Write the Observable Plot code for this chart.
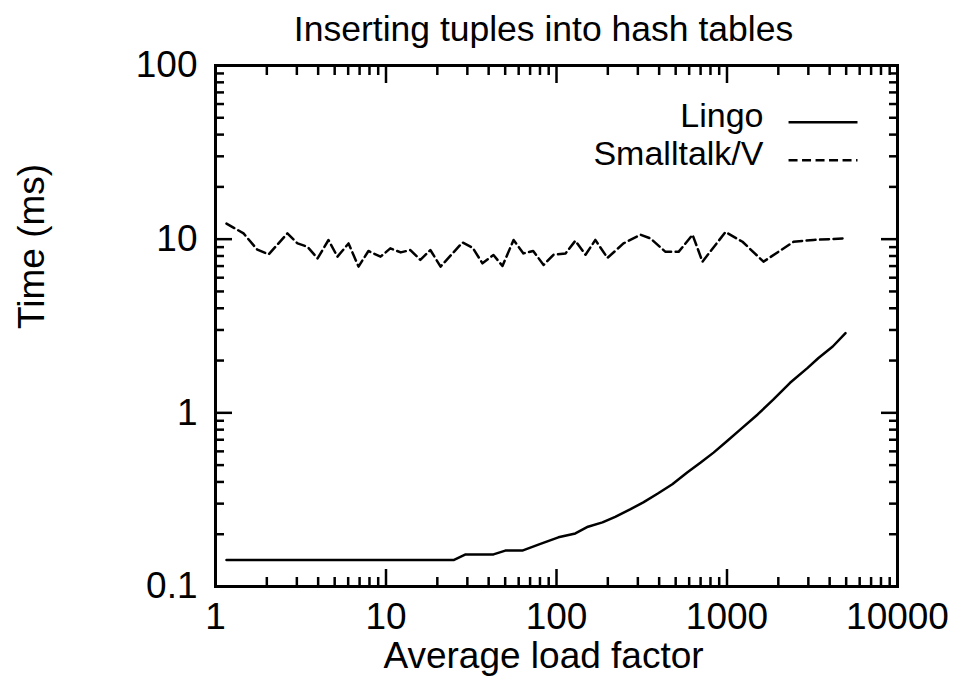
<!DOCTYPE html>
<html>
<head>
<meta charset="utf-8">
<script src="https://cdn.jsdelivr.net/npm/d3@7"></script>
<script src="https://cdn.jsdelivr.net/npm/@observablehq/plot@0.6"></script>
<style>
  html, body { margin: 0; padding: 0; background: white; }
</style>
</head>
<body>
<div id="chart"></div>
<script>
// ---- data ----
const seriesNames = ["Lingo", "Smalltalk/V"];

const lingoX = [1.16, 24.9, 29.3, 42.7, 50.1, 63, 80.5, 102.6, 129, 153, 186, 221, 272, 323, 393, 478, 584, 701, 834, 1002, 1200, 1513, 1867, 2344, 2960, 3440, 4170, 4955];
const lingoY = [0.142, 0.142, 0.153, 0.153, 0.161, 0.161, 0.176, 0.192, 0.202, 0.221, 0.234, 0.252, 0.279, 0.305, 0.343, 0.388, 0.453, 0.517, 0.590, 0.688, 0.803, 0.979, 1.19, 1.49, 1.81, 2.07, 2.41, 2.88];

const smalltalkX = [1.16, 1.46, 1.76, 2.05, 2.64, 3.03, 3.46, 3.97, 4.60, 5.19, 6.03, 6.90, 7.89, 9.29, 10.6, 12.2, 13.9, 15.9, 18.2, 20.9, 28.1, 32.2, 36.8, 42.7, 48.2, 56, 64, 73, 84, 96, 113, 129, 148, 169, 199, 247, 311, 356, 436, 520, 628, 718, 980, 1233, 1637, 2455, 3215, 4955];
const smalltalkY = [12.3, 10.8, 8.7, 8.17, 10.8, 9.45, 9.05, 7.75, 9.89, 7.93, 9.45, 6.95, 8.55, 7.93, 8.85, 8.39, 8.66, 7.59, 8.66, 6.95, 9.57, 8.93, 7.26, 8.11, 7.01, 9.89, 8.28, 8.55, 7.10, 8.13, 8.28, 9.79, 8.13, 9.9, 7.8, 9.45, 10.6, 10.1, 8.45, 8.45, 10.6, 7.42, 11.0, 9.66, 7.42, 9.66, 9.9, 10.1];

const xTickLabels = [1, 10, 100, 1000, 10000];
const yTickLabels = [0.1, 1, 10, 100];

const titleText = "Inserting tuples into hash tables";
const xLabelText = "Average load factor";
const yLabelText = "Time (ms)";

// ---- derived tables ----
const lingo = lingoX.map((x, i) => ({x, y: lingoY[i]}));
const smalltalk = smalltalkX.map((x, i) => ({x, y: smalltalkY[i]}));
const xMinor = xTickLabels.slice(0, -1).flatMap(d => [2,3,4,5,6,7,8,9].map(k => k * d));
const yMinor = yTickLabels.slice(0, -1).flatMap(d => [2,3,4,5,6,7,8,9].map(k => +(k * d).toPrecision(3)));

const font = "'Liberation Sans', Arial, Helvetica, sans-serif";
const tickW = 2.5;
const blank = () => "";

const chart = Plot.plot({
  width: 955,
  height: 685,
  marginLeft: 215,
  marginRight: 58,
  marginTop: 65,
  marginBottom: 99,
  x: {type: "log", domain: [1, 10000]},
  y: {type: "log", domain: [0.1, 100]},
  style: {fontFamily: font, fontSize: "37px", background: "white", color: "black"},
  marks: [
    // inward ticks on all four sides
    Plot.axisX(xTickLabels, {anchor: "bottom", tickSize: -17, tickFormat: blank, label: null, strokeWidth: tickW}),
    Plot.axisX(xMinor, {anchor: "bottom", tickSize: -9, tickFormat: blank, label: null, strokeWidth: tickW}),
    Plot.axisX(xTickLabels, {anchor: "top", tickSize: -17, tickFormat: blank, label: null, strokeWidth: tickW}),
    Plot.axisX(xMinor, {anchor: "top", tickSize: -9, tickFormat: blank, label: null, strokeWidth: tickW}),
    Plot.axisY(yTickLabels, {anchor: "left", tickSize: -17, tickFormat: blank, label: null, strokeWidth: tickW}),
    Plot.axisY(yMinor, {anchor: "left", tickSize: -9, tickFormat: blank, label: null, strokeWidth: tickW}),
    Plot.axisY(yTickLabels, {anchor: "right", tickSize: -17, tickFormat: blank, label: null, strokeWidth: tickW}),
    Plot.axisY(yMinor, {anchor: "right", tickSize: -9, tickFormat: blank, label: null, strokeWidth: tickW}),
    // tick labels
    Plot.axisX(xTickLabels, {anchor: "bottom", tickSize: 0, tickPadding: 16, tickFormat: d => String(d), label: null, fontSize: 37}),
    Plot.axisY(yTickLabels, {anchor: "left", tickSize: 0, tickPadding: 18, tickFormat: d => String(d), label: null, fontSize: 37}),
    Plot.frame({strokeWidth: 3}),
    // data
    Plot.line(lingo, {x: "x", y: "y", stroke: "black", strokeWidth: 2.5}),
    Plot.line(smalltalk, {x: "x", y: "y", stroke: "black", strokeWidth: 2.5, strokeDasharray: "9,4.5"}),
    // legend
    Plot.text([seriesNames[0]], {x: 1637, y: 51.2, text: d => d, textAnchor: "end", lineAnchor: "middle", fontSize: 34}),
    Plot.text([seriesNames[1]], {x: 1637, y: 30.9, text: d => d, textAnchor: "end", lineAnchor: "middle", fontSize: 34}),
    Plot.link([seriesNames[0]], {x1: 2296, x2: 5826, y1: 47.1, y2: 47.1, stroke: "black", strokeWidth: 2.5}),
    Plot.link([seriesNames[1]], {x1: 2296, x2: 5826, y1: 28.5, y2: 28.5, stroke: "black", strokeWidth: 2.5, strokeDasharray: "9,4.5"}),
    // titles
    Plot.text([titleText], {frameAnchor: "top", text: d => d, dx: -13, dy: -25, lineAnchor: "bottom", fontSize: 35.5}),
    Plot.text([xLabelText], {frameAnchor: "bottom", text: d => d, dx: -13, dy: 81, lineAnchor: "bottom", fontSize: 37}),
    Plot.text([yLabelText], {frameAnchor: "left", text: d => d, dx: -183, dy: 3, rotate: -90, lineAnchor: "middle", fontSize: 37})
  ]
});
document.getElementById("chart").appendChild(chart);
</script>
</body>
</html>
